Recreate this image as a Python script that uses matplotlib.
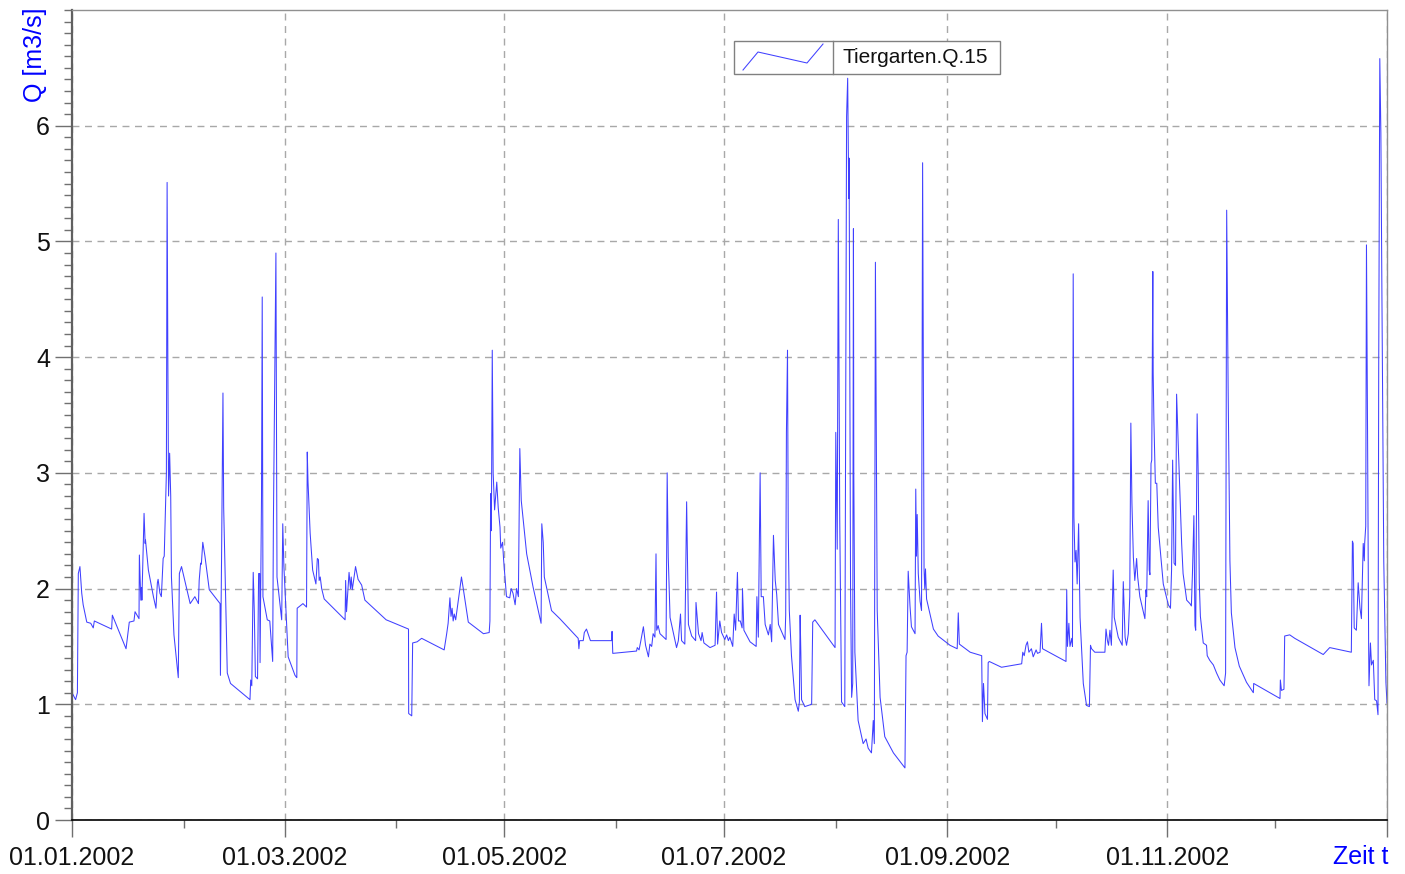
import numpy as np
import matplotlib
matplotlib.use("Agg")
import matplotlib.pyplot as plt
import matplotlib.dates as mdates
from matplotlib.ticker import MultipleLocator, FixedLocator
from matplotlib.patches import Rectangle
from matplotlib.lines import Line2D

plt.rcParams['font.family'] = ['Liberation Sans', 'DejaVu Sans']

series_name = "Tiergarten.Q.15"
y_label = "Q [m3/s]"
x_label = "Zeit t"
start_date = "2002-01-01"
tick_dates = ["2002-01-01", "2002-03-01", "2002-05-01", "2002-07-01",
              "2002-09-01", "2002-11-01", "2003-01-01"]
tick_labels = ["01.01.2002", "01.03.2002", "01.05.2002", "01.07.2002",
               "01.09.2002", "01.11.2002", ""]
minor_dates = ["2002-02-01", "2002-04-01", "2002-06-01", "2002-08-01",
               "2002-10-01", "2002-12-01"]

# day offsets since 01.01.2002 and discharge values
days_jan_feb = [0, 1.0, 1.5, 1.75, 2.2, 2.7, 3.1, 4.1, 5.2, 5.9, 6.2, 11.0, 11.2, 15.0, 15.9,
                17.2, 17.5, 18.6, 18.7, 19.1, 19.3, 19.4, 20.0, 20.3, 20.4, 21.2, 22.6, 23.3,
                23.7, 23.9, 24.4, 24.8, 25.3, 25.6, 26.2, 26.4, 26.6, 26.8, 27.1, 27.4, 27.6,
                28.3, 29.5, 29.8, 30.4, 32.8, 34.1, 35.1, 35.3, 35.7, 35.9, 36.3, 36.9, 38.1,
                41.1, 41.2, 41.5, 41.9, 42.1, 43.1, 44.0, 49.4, 49.6, 49.9, 50.3, 50.6, 50.9,
                51.5, 51.8, 52.1, 52.2, 52.6, 52.8, 53.0, 54.2, 54.9, 55.7, 55.9, 56.6, 56.9,
                57.7, 58.2, 58.5, 58.8]
q_jan_feb = [1.10, 1.04, 1.10, 2.13, 2.19, 1.96, 1.86, 1.71, 1.70, 1.66, 1.72, 1.65, 1.77, 1.48, 1.71,
             1.72, 1.80, 1.74, 2.29, 1.90, 2.01, 1.90, 2.65, 2.39, 2.42, 2.16, 1.93, 1.83,
             2.05, 2.08, 1.96, 1.93, 2.26, 2.28, 3.00, 5.51, 4.00, 2.80, 3.17, 2.80, 2.10,
             1.60, 1.23, 2.13, 2.19, 1.87, 1.93, 1.87, 2.07, 2.22, 2.21, 2.40, 2.28, 1.99,
             1.87, 1.25, 2.22, 3.69, 2.70, 1.27, 1.18, 1.04, 1.21, 1.16, 2.14, 1.80, 1.24,
             1.22, 2.13, 2.13, 1.36, 2.79, 4.52, 1.93, 1.73, 1.72, 1.37, 2.57, 4.90, 2.10,
             1.87, 1.73, 2.56, 2.20]

days_mar_apr = [59.6, 60.0, 61.9, 62.4, 62.5, 63.7, 64.1, 65.1, 65.3, 65.5, 66.1, 66.8, 67.7,
                68.1, 68.4, 68.6, 68.9, 69.3, 70.0, 75.8, 75.95, 76.2, 76.9, 77.3, 77.5, 77.8,
                78.7, 79.4, 80.4, 81.3, 87.2, 88.0, 93.4, 93.45, 94.3, 94.55, 95.8, 97.05,
                103.3, 104.0, 104.4, 104.9, 105.2, 105.5, 105.8, 106.1, 106.5, 107.7, 108.1,
                108.6, 110.0, 114.2, 115.8, 116.0, 116.2, 116.4, 116.65, 116.9, 117.3, 117.9,
                118.3, 118.8, 119.0, 119.5, 119.8]
q_mar_apr = [1.67, 1.41, 1.25, 1.23, 1.83, 1.86, 1.87, 1.84, 3.18, 2.93, 2.48, 2.16, 2.04,
             2.26, 2.25, 2.07, 2.10, 2.00, 1.91, 1.73, 2.07, 1.80, 2.14, 2.00, 2.10, 1.99,
             2.19, 2.08, 2.03, 1.90, 1.73, 1.72, 1.65, 0.92, 0.90, 1.53, 1.54, 1.57,
             1.47, 1.61, 1.70, 1.92, 1.76, 1.83, 1.72, 1.78, 1.73, 2.01, 2.10,
             2.00, 1.71, 1.61, 1.62, 1.72, 2.82, 2.50, 4.06, 3.00, 2.68, 2.92,
             2.70, 2.53, 2.35, 2.40, 2.25]

days_may_jun = [120.6, 121.5, 121.9, 122.4, 123.0, 123.4, 123.9, 124.3, 124.7, 126.2, 128.0,
                130.2, 130.4, 130.8, 131.1, 131.8, 133.1, 135.4, 140.5, 140.7, 140.9, 141.9,
                142.2, 142.8, 143.9, 149.8, 149.9, 150.1, 156.7, 156.9, 157.4, 157.9, 158.6,
                159.2, 160.0, 160.4, 160.9, 161.3, 161.8, 162.1, 162.3, 162.7, 163.2, 164.9,
                165.2, 165.5, 166.0, 167.8, 168.3, 168.9, 169.2, 170.1, 170.6, 171.1, 172.0,
                173.1, 173.2, 173.9, 174.6, 174.9, 175.4, 177.1, 178.5, 178.9, 179.2, 179.8,
                180.3]
q_may_jun = [1.93, 1.92, 2.00, 1.96, 1.86, 2.00, 1.93, 3.21, 2.76, 2.30, 2.01,
             1.70, 2.56, 2.40, 2.10, 2.00, 1.81, 1.74, 1.57, 1.48, 1.55, 1.55,
             1.62, 1.65, 1.55, 1.55, 1.63, 1.44, 1.46, 1.49, 1.47, 1.55, 1.67,
             1.51, 1.41, 1.52, 1.50, 1.61, 1.58, 2.30, 1.64, 1.68, 1.61, 1.56,
             3.00, 2.27, 1.75, 1.49, 1.55, 1.78, 1.55, 1.52, 2.75, 1.69, 1.59,
             1.55, 1.88, 1.61, 1.55, 1.62, 1.53, 1.49, 1.51, 1.97, 1.52, 1.72,
             1.62]

days_jul_aug = [181.2, 181.7, 182.2, 182.6, 183.4, 183.8, 184.2, 184.7, 185.0, 185.5, 186.0,
                186.1, 186.5, 188.2, 189.9, 190.1, 190.5, 191.0, 191.3, 191.9, 192.4, 193.3,
                193.8, 194.2, 194.7, 195.2, 195.6, 196.1, 197.9, 198.1, 198.3, 198.6, 198.8,
                199.1, 199.7, 200.7, 201.6, 201.9, 202.1, 202.3, 202.5, 203.4, 205.3, 205.6,
                206.2, 211.8, 212.0, 212.4, 212.7, 213.1, 213.6, 214.5, 214.8, 215.0, 215.3,
                215.6, 215.7, 215.9, 216.1, 216.4, 216.7, 216.9, 217.0, 217.3, 218.2, 219.6,
                220.4, 221.0, 221.9, 222.4, 222.7, 223.0, 223.5, 224.3, 225.6, 228.0, 231.2,
                231.5, 231.8, 232.1, 232.6, 233.0, 234.0, 234.2, 234.4, 234.6, 234.9, 235.4,
                235.8, 236.1, 236.5, 236.7, 236.9, 237.2, 239.1, 240.4]
q_jul_aug = [1.56, 1.60, 1.55, 1.58, 1.50, 1.78, 1.64, 2.14, 1.72, 1.72, 1.66,
             2.00, 1.64, 1.54, 1.50, 1.93, 1.58, 3.00, 1.93, 1.93, 1.69, 1.60,
             1.69, 1.54, 2.46, 2.07, 1.95, 1.69, 1.56, 1.77, 3.35, 4.06, 2.52,
             1.81, 1.42, 1.04, 0.94, 1.02, 1.77, 1.45, 1.04, 0.98, 1.00, 1.71,
             1.73, 1.49, 3.35, 2.34, 5.19, 2.60, 1.02, 0.98, 3.96, 6.08, 6.41,
             5.37, 5.72, 3.98, 2.00, 1.06, 1.18, 5.11, 3.00, 1.45, 0.86, 0.66,
             0.70, 0.62, 0.58, 0.86, 0.66, 4.82, 1.81, 1.06, 0.72, 0.58, 0.45,
             1.42, 1.45, 2.15, 1.85, 1.67, 1.61, 2.86, 2.28, 2.64, 2.13, 1.89,
             1.81, 5.68, 2.17, 2.00, 2.17, 1.91, 1.65, 1.59]

days_sep_oct = [243.7, 245.7, 246.0, 246.3, 249.3, 252.5, 252.7, 253.0, 253.2, 253.4, 254.1,
                254.3, 254.6, 258.0, 263.6, 263.9, 264.3, 264.8, 265.2, 265.6, 266.3, 266.8,
                267.6, 268.0, 268.7, 269.1, 269.4, 275.9, 276.1, 276.3, 276.7, 277.0, 277.5,
                277.7, 277.9, 278.1, 278.4, 278.7, 279.0, 279.4, 279.8, 280.7, 281.6, 282.4,
                282.7, 283.0, 283.9, 286.7, 287.0, 287.4, 287.7, 288.1, 288.5, 289.0, 289.3,
                290.4, 291.5, 291.8, 292.3, 292.7, 293.2, 293.6, 293.9, 294.2, 294.6, 295.0,
                295.5, 295.8, 296.4, 297.8, 298.1, 298.3, 298.7, 299.0, 299.2, 299.5, 299.7,
                300.0, 300.1, 300.3, 300.7, 301.1, 301.5, 302.9]
q_sep_oct = [1.51, 1.48, 1.79, 1.52, 1.45, 1.42, 0.85, 1.18, 1.06, 0.92, 0.87,
             1.36, 1.37, 1.32, 1.35, 1.45, 1.42, 1.51, 1.54, 1.45, 1.48, 1.41,
             1.47, 1.44, 1.45, 1.70, 1.48, 1.37, 1.99, 1.50, 1.70, 1.50, 1.57,
             1.50, 4.72, 2.62, 2.23, 2.33, 2.04, 2.56, 1.75, 1.18, 0.99, 0.98,
             1.51, 1.48, 1.45, 1.45, 1.65, 1.55, 1.51, 1.64, 1.51, 2.16, 1.75,
             1.58, 1.51, 2.06, 1.58, 1.51, 1.61, 1.93, 3.43, 2.74, 2.27, 2.07,
             2.26, 2.10, 1.93, 1.74, 1.99, 1.93, 2.76, 2.16, 2.12, 3.08, 3.11,
             4.74, 3.86, 3.45, 2.91, 2.91, 2.53, 2.04]

days_nov_dec = [304.3, 304.9, 305.2, 305.5, 305.9, 306.3, 306.6, 307.1, 308.0, 308.4, 309.4,
                310.3, 310.7, 311.0, 311.4, 311.7, 311.9, 312.3, 312.6, 312.9, 313.2, 314.0,
                314.9, 315.1, 315.8, 316.8, 317.7, 318.6, 319.8, 320.2, 320.5, 320.9, 321.4,
                321.8, 322.8, 324.0, 326.0, 327.9, 328.0, 335.3, 335.4, 335.7, 336.4, 336.6,
                338.0, 339.4, 347.3, 349.1, 355.1, 355.4, 355.6, 355.9, 356.5, 357.0, 357.5,
                357.9, 358.4, 358.7, 358.8, 359.1, 359.3, 359.6, 359.9, 360.0, 360.4, 360.7,
                361.2, 361.6, 362.1, 362.5, 362.7, 363.0, 363.3, 363.6, 364.1, 364.7, 365.0]
q_nov_dec = [1.86, 1.83, 2.16, 3.11, 2.22, 2.20, 3.68, 3.20, 2.39, 2.13, 1.90,
             1.87, 1.85, 2.13, 2.63, 1.68, 1.64, 3.51, 2.99, 2.05, 1.76, 1.53,
             1.51, 1.42, 1.38, 1.34, 1.27, 1.21, 1.16, 1.27, 5.27, 3.74, 2.24,
             1.79, 1.49, 1.33, 1.19, 1.10, 1.18, 1.05, 1.21, 1.12, 1.13, 1.59,
             1.60, 1.57, 1.43, 1.49, 1.45, 2.41, 2.39, 1.66, 1.64, 2.05, 1.83,
             1.74, 2.39, 2.24, 2.39, 2.54, 4.97, 3.36, 1.53, 1.16, 1.53, 1.34,
             1.38, 1.04, 1.03, 0.91, 3.92, 6.58, 5.94, 4.49, 2.24, 1.19, 1.01]

days = np.array(days_jan_feb + days_mar_apr + days_may_jun + days_jul_aug
                + days_sep_oct + days_nov_dec)
q = np.array(q_jan_feb + q_mar_apr + q_may_jun + q_jul_aug + q_sep_oct + q_nov_dec)
t = np.datetime64(start_date) + (days * 86400).astype('timedelta64[s]')

W, H = 1405, 874
PX = 72 / 100  # points per pixel
fig = plt.figure(figsize=(W / 100, H / 100), dpi=100)
ax = fig.add_axes([72 / W, 1 - 820 / H, (1387 - 72) / W, (820 - 10) / H])

line_color = '#4040ff'
ax.plot(t, q, color=line_color, lw=0.75)

ax.set_xlim(np.datetime64("2002-01-01"), np.datetime64("2003-01-01"))
ax.set_ylim(0, 7)

major_t = [mdates.date2num(np.datetime64(d)) for d in tick_dates]
minor_t = [mdates.date2num(np.datetime64(d)) for d in minor_dates]
ax.xaxis.set_major_locator(FixedLocator(major_t))
ax.xaxis.set_minor_locator(FixedLocator(minor_t))
ax.set_xticklabels(tick_labels)
ax.yaxis.set_major_locator(FixedLocator([0, 1, 2, 3, 4, 5, 6]))
ax.yaxis.set_minor_locator(MultipleLocator(0.1))

ax.tick_params(axis='both', which='major', direction='out', length=17 * PX, width=1,
               color='#707070', labelsize=18, labelcolor='#111111')
ax.tick_params(axis='both', which='minor', direction='out', length=8 * PX, width=1,
               color='#707070')
ax.tick_params(axis='x', which='major', pad=6.3)
ax.tick_params(axis='y', which='major', pad=3.6)

ax.grid(True, which='major', axis='both', color='#a8a8a8', linestyle=(0, (5, 4)), lw=1)

for s in ('top', 'right'):
    ax.spines[s].set_color('#909090')
    ax.spines[s].set_linewidth(1)
ax.spines['left'].set_color('#606060')
ax.spines['left'].set_linewidth(1.6)
ax.spines['bottom'].set_color('#000000')
ax.spines['bottom'].set_linewidth(1.2)

# legend box
lx0, lx1 = (734 - 72) / 1315, (1000 - 72) / 1315
ly0, ly1 = 1 - (74 - 10) / 810, 1 - (41 - 10) / 810
sep = (833 - 72) / 1315
ax.add_patch(Rectangle((lx0, ly0), lx1 - lx0, ly1 - ly0, transform=ax.transAxes,
                       facecolor='white', edgecolor='#808080', lw=1, zorder=5))
ax.add_line(Line2D([sep, sep], [ly0, ly1], transform=ax.transAxes, color='#808080',
                   lw=1, zorder=6))
zx = np.array([743, 758, 807, 823])
zy = np.array([70, 52, 63, 44])
ax.add_line(Line2D((zx - 72) / 1315, 1 - (zy - 10) / 810, transform=ax.transAxes,
                   color=line_color, lw=0.75, zorder=6))
ax.text((843 - 72) / 1315, (ly0 + ly1) / 2, series_name, transform=ax.transAxes,
        ha='left', va='center', fontsize=15, color='#111111', zorder=7)

fig.text(35 / W, 1 - 8 / H, y_label, rotation=90, ha='center', va='top',
         fontsize=18, color='#0000ff')
fig.text(1388 / W, 1 - 857 / H, x_label, ha='right', va='center',
         fontsize=18, color='#0000ff')

fig.savefig("out.png", dpi=100)
